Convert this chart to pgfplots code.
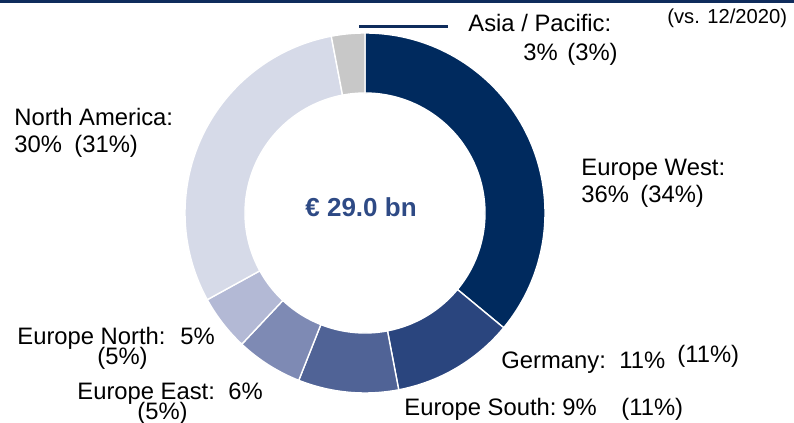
\documentclass[border=0pt]{standalone}
\usepackage{pgfplots}
\pgfplotsset{compat=1.18}
\usepackage{fontspec}
\setmainfont{Liberation Sans}
\definecolor{cEW}{HTML}{002A5E}
\definecolor{cDE}{HTML}{2A457E}
\definecolor{cES}{HTML}{506396}
\definecolor{cEE}{HTML}{7E8AB4}
\definecolor{cEN}{HTML}{B3B9D5}
\definecolor{cNA}{HTML}{D6DAE8}
\definecolor{cAP}{HTML}{C8C8C8}
\definecolor{cTxt}{HTML}{2E4A85}
\definecolor{cTop}{HTML}{0F2C5C}
\tikzset{
  lbl/.style={anchor=base west, inner sep=0pt, font=\fontsize{11.9}{13.5}\selectfont},
  ctr/.style={anchor=base west, inner sep=0pt, text=cTxt, font=\fontsize{13}{15}\selectfont\bfseries},
}
\begin{document}
\begin{tikzpicture}
\begin{axis}[
  hide axis, x=0.5pt, y=0.5pt,
  xmin=0, xmax=794, ymin=0, ymax=423,
  clip=false,
]
\coordinate (LL) at (axis cs:0,0);
\coordinate (UR) at (axis cs:794,423);
% top band
\fill[cTop] (axis cs:0,420.3) rectangle (axis cs:794,423);
% donut: shares in percent, clockwise from 12 o'clock
\gdef\cum{0}
\foreach \v/\c in {36/cEW, 11/cDE, 9/cES, 6/cEE, 5/cEN, 30/cNA, 3/cAP}{
  \pgfmathsetmacro{\a}{90-3.6*\cum}
  \pgfmathsetmacro{\b}{90-3.6*(\cum+\v)}
  \edef\temp{\noexpand\filldraw[fill=\c, draw=white, line width=0.7pt]
    ([shift={(\a:90pt)}]axis cs:365,210) arc[start angle=\a, end angle=\b, radius=90pt]
    -- ([shift={(\b:60pt)}]axis cs:365,210) arc[start angle=\b, end angle=\a, radius=60pt] -- cycle;}
  \temp
  \pgfmathparse{\cum+\v}\xdef\cum{\pgfmathresult}
}
% Asia leader line
\draw[cTop, line width=1.25pt] (axis cs:359,396.3) -- (axis cs:448,396.3);
% labels
\node[lbl] at (axis cs:581,247) {Europe West:};
\node[lbl] at (axis cs:581,220) {36\%};
\node[lbl] at (axis cs:640,220) {(34\%)};
\node[lbl] at (axis cs:14,297) {North America:};
\node[lbl] at (axis cs:14,270) {30\%};
\node[lbl] at (axis cs:74,270) {(31\%)};
\node[lbl] at (axis cs:501,54) {Germany:};
\node[lbl] at (axis cs:619,54) {11\%};
\node[lbl] at (axis cs:677,60) {(11\%)};
\node[lbl] at (axis cs:404,7) {Europe South:};
\node[lbl] at (axis cs:562,7) {9\%};
\node[lbl] at (axis cs:621,7) {(11\%)};
\node[lbl] at (axis cs:17,78) {Europe North:};
\node[lbl] at (axis cs:180,78) {5\%};
\node[lbl] at (axis cs:97,58) {(5\%)};
\node[lbl] at (axis cs:77,23) {Europe East:};
\node[lbl] at (axis cs:228,23) {6\%};
\node[lbl] at (axis cs:137,3) {(5\%)};
\node[lbl] at (axis cs:468,391) {Asia / Pacific:};
\node[lbl] at (axis cs:523,362) {3\%};
\node[lbl] at (axis cs:567,362) {(3\%)};
\node[ctr] at (axis cs:305,206) {€ 29.0 bn};
\node[anchor=base west, inner sep=0pt, font=\fontsize{10.1}{12}\selectfont] at (axis cs:667,399) {(vs. 12/2020)};
\end{axis}
\pgfresetboundingbox
\path (LL) rectangle (UR);
\end{tikzpicture}
\end{document}
